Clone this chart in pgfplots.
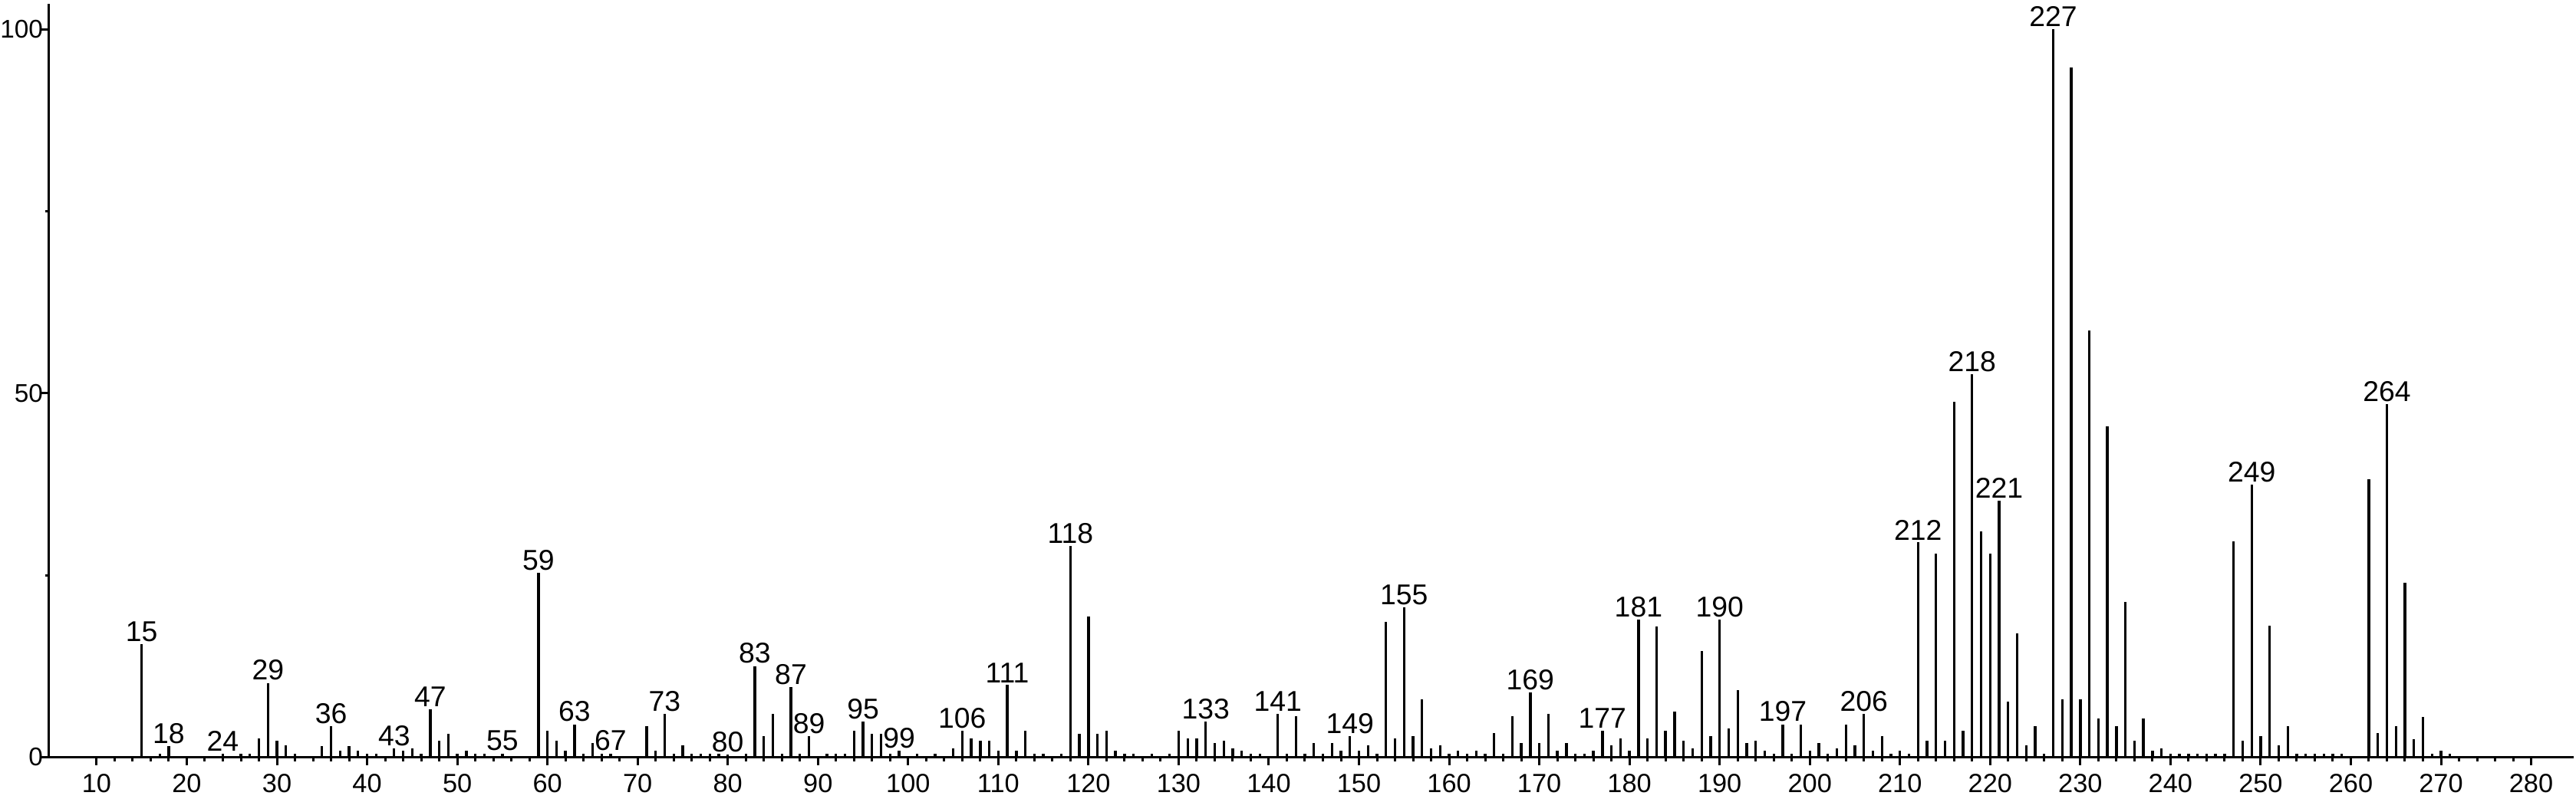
\documentclass[border=0pt]{standalone}
\usepackage{pgfplots}
\pgfplotsset{compat=1.18}
\usepackage{pgfplotstable}
\usepackage{fontspec}
\setmainfont{Liberation Sans}

\pgfplotstableread{
x y
15 15.5
17 0.5
18 1.5
24 0.5
26 0.5
27 0.5
28 2.6
29 10.2
30 2.2
31 1.6
32 0.5
35 1.5
36 4.2
37 0.9
38 1.5
39 0.85
40 0.5
41 0.5
43 1.2
44 0.85
45 1.2
46 0.5
47 6.6
48 2.2
49 3.2
50 0.5
51 0.9
52 0.5
53 0.5
55 0.5
59 25.3
60 3.6
61 2.2
62 0.9
63 4.5
64 0.5
65 1.9
66 0.5
67 0.5
71 4.25
72 0.9
73 5.9
74 0.5
75 1.6
76 0.5
77 0.5
78 0.5
79 0.5
80 0.3
82 0.5
83 12.5
84 2.9
85 5.9
86 0.5
87 9.6
88 0.5
89 2.9
91 0.5
92 0.5
93 0.5
94 3.6
95 4.9
96 3.2
97 3.2
98 0.5
99 0.85
101 0.5
103 0.5
105 1.2
106 3.6
107 2.6
108 2.2
109 2.2
110 0.9
111 9.9
112 0.9
113 3.6
114 0.5
115 0.5
117 0.5
118 29.0
119 3.2
120 19.3
121 3.2
122 3.6
123 0.9
124 0.5
125 0.5
127 0.5
129 0.5
130 3.6
131 2.6
132 2.6
133 4.9
134 1.9
135 2.2
136 1.2
137 0.9
138 0.5
139 0.5
141 5.9
142 0.5
143 5.6
144 0.5
145 1.9
146 0.5
147 1.9
148 0.9
149 2.9
150 0.9
151 1.6
152 0.5
153 18.6
154 2.6
155 20.6
156 2.9
157 7.9
158 1.2
159 1.6
160 0.5
161 0.9
162 0.5
163 0.9
164 0.5
165 3.3
166 0.5
167 5.6
168 1.9
169 8.9
170 1.9
171 5.9
172 0.9
173 1.9
174 0.5
175 0.5
176 0.9
177 3.6
178 1.6
179 2.6
180 0.9
181 18.9
182 2.6
183 17.9
184 3.6
185 6.2
186 2.2
187 1.2
188 14.6
189 2.9
190 18.9
191 3.9
192 9.2
193 1.9
194 2.2
195 0.9
196 0.5
197 4.5
198 0.5
199 4.5
200 0.9
201 1.9
202 0.5
203 1.2
204 4.5
205 1.6
206 5.9
207 0.9
208 2.9
209 0.5
210 0.9
211 0.5
212 29.5
213 2.2
214 28.0
215 2.2
216 48.8
217 3.6
218 52.6
219 31.0
220 28.0
221 35.2
222 7.6
223 17.0
224 1.6
225 4.25
226 0.5
227 100
228 7.9
229 94.8
230 7.9
231 58.6
232 5.25
233 45.4
234 4.25
235 21.3
236 2.2
237 5.25
238 0.9
239 1.2
240 0.5
241 0.5
242 0.5
243 0.5
244 0.5
245 0.5
246 0.5
247 29.6
248 2.2
249 37.4
250 2.9
251 18.1
252 1.6
253 4.2
254 0.5
255 0.5
256 0.5
257 0.5
258 0.5
259 0.5
262 38.2
263 3.25
264 48.5
265 4.2
266 24.0
267 2.5
268 5.5
269 0.5
270 0.9
271 0.5
}\peaks

\pgfplotstableread{
x y
15 15.5
18 1.5
24 0.5
29 10.2
36 4.2
43 1.2
47 6.6
55 0.5
59 25.3
63 4.5
67 0.5
73 5.9
80 0.3
83 12.5
87 9.6
89 2.9
95 4.9
99 0.85
106 3.6
111 9.9
118 29.0
133 4.9
141 5.9
149 2.9
155 20.6
169 8.9
177 3.6
181 18.9
190 18.9
197 4.5
206 5.9
212 29.5
218 52.6
221 35.2
227 100
249 37.4
264 48.5
}\labeled

\begin{document}
\begin{tikzpicture}
\begin{axis}[
  scale only axis,
  width=987.3pt, height=294.7pt,
  xmin=4.73, xmax=284.72, ymin=0, ymax=103.5,
  axis lines*=left,
  xtick={10,20,...,280},
  minor x tick num=4,
  ytick={0,50,100},
  minor ytick={25,75},
  tick align=outside,
  major tick length=3.2pt,
  minor tick length=1.6pt,
  tick style={black, line width=0.9pt},
  axis line style={black, line width=0.9pt},
  ticklabel style={font=\fontsize{10.3}{12}\selectfont},
  yticklabel style={font=\fontsize{10}{12}\selectfont, inner xsep=0pt, xshift=1pt},
  /pgf/number format/assume math mode=true,
  clip=false,
]
\addplot[ycomb, black, line width=1pt, mark=none] table[x=x, y=y] {\peaks};
\addplot[draw=none, mark=none, nodes near coords, point meta=explicit symbolic,
  nodes near coords style={font=\fontsize{11.2}{13}\selectfont, anchor=south, inner sep=0.8pt, text=black}]
  table[x=x, y=y, meta=x] {\labeled};
\end{axis}
\pgfresetboundingbox
\path[use as bounding box] ([xshift=-19.2pt,yshift=-16.4pt]current axis.south west) rectangle ([xshift=0.9pt,yshift=1.5pt]current axis.north east);
\end{tikzpicture}
\end{document}
